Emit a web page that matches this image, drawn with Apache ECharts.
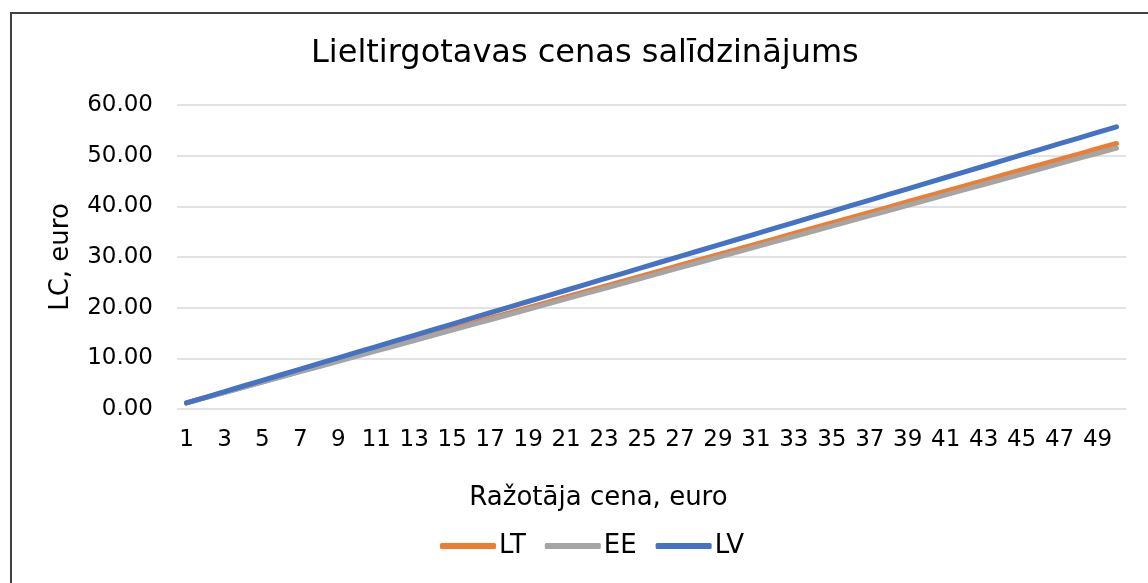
<!DOCTYPE html>
<html lang="lv">
<head>
<meta charset="UTF-8">
<title>Lieltirgotavas cenas salīdzinājums</title>
<script src="https://cdn.jsdelivr.net/npm/echarts@6/dist/echarts.min.js"></script>
<style>
  html, body { margin: 0; padding: 0; background: #fff; }
  #main { width: 1148px; height: 583px; }
</style>
</head>
<body>
<div id="main"></div>
<script>
// ražotāja cena (x)
var categories = [1, 2, 3, 4, 5, 6, 7, 8, 9, 10, 11, 12, 13, 14, 15, 16, 17, 18, 19, 20,
  21, 22, 23, 24, 25, 26, 27, 28, 29, 30, 31, 32, 33, 34, 35, 36, 37, 38, 39, 40,
  41, 42, 43, 44, 45, 46, 47, 48, 49, 50];

var ltValues = [1.20, 2.24, 3.29, 4.33, 5.38, 6.42, 7.47, 8.51, 9.56, 10.60,
  11.65, 12.69, 13.74, 14.78, 15.83, 16.87, 17.92, 18.96, 20.01, 21.05,
  22.10, 23.14, 24.19, 25.23, 26.28, 27.32, 28.37, 29.41, 30.46, 31.50,
  32.55, 33.59, 34.64, 35.68, 36.73, 37.77, 38.82, 39.86, 40.91, 41.95,
  43.00, 44.04, 45.09, 46.13, 47.18, 48.22, 49.27, 50.31, 51.36, 52.40];

var eeValues = [1.20, 2.23, 3.25, 4.28, 5.31, 6.33, 7.36, 8.39, 9.41, 10.44,
  11.47, 12.49, 13.52, 14.55, 15.57, 16.60, 17.62, 18.65, 19.68, 20.70,
  21.73, 22.76, 23.78, 24.81, 25.84, 26.86, 27.89, 28.92, 29.94, 30.97,
  32.00, 33.02, 34.05, 35.08, 36.10, 37.13, 38.15, 39.18, 40.21, 41.23,
  42.26, 43.29, 44.31, 45.34, 46.37, 47.39, 48.42, 49.45, 50.47, 51.50];

var lvValues = [1.20, 2.31, 3.42, 4.54, 5.65, 6.76, 7.87, 8.99, 10.10, 11.21,
  12.32, 13.43, 14.55, 15.66, 16.77, 17.88, 19.00, 20.11, 21.22, 22.33,
  23.44, 24.56, 25.67, 26.78, 27.89, 29.01, 30.12, 31.23, 32.34, 33.45,
  34.57, 35.68, 36.79, 37.90, 39.02, 40.13, 41.24, 42.35, 43.46, 44.58,
  45.69, 46.80, 47.91, 49.03, 50.14, 51.25, 52.36, 53.47, 54.59, 55.70];

var seriesNames = ['LT', 'EE', 'LV'];
var seriesColors = ['#ED7D31', '#A5A5A5', '#4472C4'];
var seriesData = [ltValues, eeValues, lvValues];

var font = 'DejaVu Sans, Verdana, sans-serif';
var myChart = echarts.init(document.getElementById('main'), null, { renderer: 'canvas' });

var option = {
  animation: false,
  backgroundColor: '#fff',
  title: {
    text: 'Lieltirgotavas cenas salīdzinājums',
    left: 311,
    top: 38,
    padding: 0,
    textStyle: { fontFamily: font, fontSize: 32, fontWeight: 'normal', color: '#000' }
  },
  graphic: [{
    type: 'rect',
    shape: { x: 11, y: 13, width: 1300, height: 700 },
    style: { fill: 'none', stroke: '#404040', lineWidth: 2 },
    silent: true
  }],
  legend: {
    data: seriesNames.map(function (n) { return { name: n, icon: 'roundRect' }; }),
    top: 528,
    left: 435,
    itemWidth: 56,
    itemHeight: 6,
    itemGap: 19,
    textStyle: { fontFamily: font, fontSize: 26, color: '#000', padding: [0, 0, 0, -2] }
  },
  grid: { left: 177, right: 22, top: 105, bottom: 174, containLabel: false },
  xAxis: {
    type: 'category',
    data: categories,
    boundaryGap: true,
    name: 'Ražotāja cena, euro',
    nameLocation: 'middle',
    nameGap: 76,
    nameTextStyle: { fontFamily: font, fontSize: 26, color: '#000', padding: [0, 106, 0, 0] },
    axisLine: { show: false },
    axisTick: { show: false },
    axisLabel: { interval: 1, margin: 20, fontFamily: font, fontSize: 23, color: '#000' }
  },
  yAxis: {
    type: 'value',
    min: 0,
    max: 60,
    interval: 10,
    name: 'LC, euro',
    nameLocation: 'middle',
    nameGap: 103,
    nameRotate: 90,
    nameTextStyle: { fontFamily: font, fontSize: 26, color: '#000' },
    axisLine: { show: false },
    axisTick: { show: false },
    splitLine: { lineStyle: { color: '#D9D9D9', width: 1.5 } },
    axisLabel: {
      margin: 24,
      fontFamily: font,
      fontSize: 23,
      color: '#000',
      formatter: function (v) { return v.toFixed(2); }
    }
  },
  series: seriesNames.map(function (name, i) {
    return {
      name: name,
      type: 'line',
      data: seriesData[i],
      symbol: 'none',
      color: seriesColors[i],
      lineStyle: { width: 5, color: seriesColors[i], cap: 'round' }
    };
  })
};

myChart.setOption(option);
</script>
</body>
</html>
